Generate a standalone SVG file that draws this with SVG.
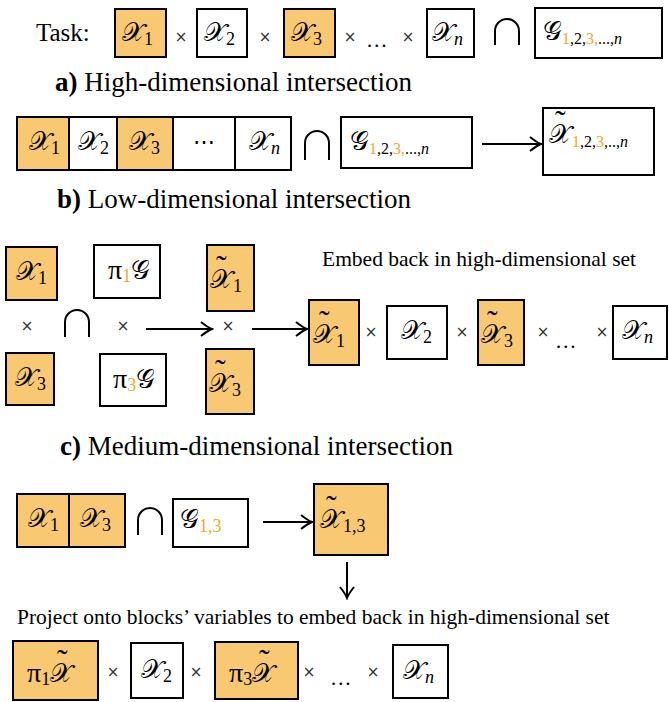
<svg xmlns="http://www.w3.org/2000/svg" width="669" height="702" viewBox="0 0 669 702">
<defs>
<style>
.bx{fill:#fff;stroke:#000;stroke-width:2}
.or{fill:#F8C873}
.t{font-family:"Liberation Serif",serif;font-size:21.5px;fill:#000}
.h{font-family:"Liberation Serif",serif;font-size:27px;fill:#000}
.m{font-family:"DejaVu Serif","Liberation Serif",serif;font-size:26px;fill:#000}
.p{font-family:"Liberation Serif",serif;font-size:28px}
.s{font-family:"Liberation Serif",serif;font-size:18px}
.o{fill:#F5A623}
.x{font-family:"DejaVu Sans",sans-serif;font-size:15px;fill:#333}
.tl{font-family:"Liberation Serif",serif;font-size:32px}
.cap{fill:none;stroke:#000;stroke-width:2}
.ar{fill:none;stroke:#000;stroke-width:2}
</style>
<marker id="ah" viewBox="-12 -8 14 16" refX="0" refY="0" markerWidth="14" markerHeight="16" markerUnits="userSpaceOnUse" orient="auto">
<path d="M-11,-7 Q-4,-1.5 0,0 Q-4,1.5 -11,7" fill="none" stroke="#000" stroke-width="2"/>
</marker>
</defs>

<g id="task">
<text class="h" x="36" y="41" style="font-size:25px">Task:</text>
<g id="t-x1"><rect class="bx or" x="115" y="9" width="51" height="48"/><text class="m" x="122" y="41">𝒳<tspan class="s" dy="4">1</tspan></text></g>
<text class="x" x="181" y="42" text-anchor="middle">×</text>
<g id="t-x2"><rect class="bx" x="197" y="9" width="50" height="48"/><text class="m" x="204" y="41">𝒳<tspan class="s" dy="4">2</tspan></text></g>
<text class="x" x="265" y="42" text-anchor="middle">×</text>
<g id="t-x3"><rect class="bx or" x="284" y="9" width="51" height="48"/><text class="m" x="291" y="41">𝒳<tspan class="s" dy="4">3</tspan></text></g>
<text class="x" x="350" y="42" text-anchor="middle">×</text>
<text class="t" x="366" y="47">…</text>
<text class="x" x="408" y="42" text-anchor="middle">×</text>
<g id="t-xn"><rect class="bx" x="427" y="9" width="47" height="48"/><text class="m" x="432" y="41">𝒳<tspan class="s" dy="4" font-style="italic">n</tspan></text></g>
<path class="cap" d="M495,45 V31 A12,12 0 0 1 519,31 V45"/>
<g id="t-g"><rect class="bx" x="535" y="8" width="127" height="50"/><text class="m" x="543" y="40">𝒢<tspan class="s" dy="4" style="font-size:16px"><tspan class="o">1</tspan>,2,<tspan class="o">3,</tspan>...,<tspan font-style="italic">n</tspan></tspan></text></g>
</g>

<text class="h" x="55" y="91"><tspan font-weight="bold">a)</tspan> High-dimensional intersection</text>

<g id="row-a">
<rect class="bx or" x="17" y="117" width="52" height="53"/>
<rect class="bx" x="69" y="117" width="48" height="53"/>
<rect class="bx or" x="117" y="117" width="56" height="53"/>
<rect class="bx" x="173" y="117" width="62" height="53"/>
<rect class="bx" x="235" y="117" width="56" height="53"/>
<text class="m" x="29" y="150">𝒳<tspan class="s" dy="4">1</tspan></text>
<text class="m" x="78" y="150">𝒳<tspan class="s" dy="4">2</tspan></text>
<text class="m" x="129" y="150">𝒳<tspan class="s" dy="4">3</tspan></text>
<text class="t" x="204" y="149" text-anchor="middle">⋯</text>
<text class="m" x="249" y="150">𝒳<tspan class="s" dy="4" font-style="italic">n</tspan></text>
<path class="cap" d="M305,160 V143 A12,12 0 0 1 329,143 V160"/>
<g id="a-g"><rect class="bx" x="341" y="117" width="131" height="51"/><text class="m" x="350" y="150">𝒢<tspan class="s" dy="4" style="font-size:16px"><tspan class="o">1</tspan>,2,<tspan class="o">3,</tspan>...,<tspan font-style="italic">n</tspan></tspan></text></g>
<g id="a-xt"><rect class="bx" x="543" y="108" width="111" height="67"/><text class="m" x="549" y="143">𝒳<tspan class="tl" x="555" y="132">˜</tspan><tspan class="s" x="572" y="147" style="font-size:16px"><tspan class="o">1</tspan>,2,<tspan class="o">3</tspan>,..,<tspan font-style="italic">n</tspan></tspan></text></g>
</g>

<text class="h" x="57" y="208"><tspan font-weight="bold">b)</tspan> Low-dimensional intersection</text>

<g id="sec-b">
<g id="b-x1"><rect class="bx or" x="6" y="247" width="51" height="53"/><text class="m" x="16" y="280">𝒳<tspan class="s" dy="4">1</tspan></text></g>
<g id="b-pg1"><rect class="bx" x="94" y="245" width="66" height="53"/><text class="p" x="108" y="279">π<tspan class="s o" dy="3">1</tspan><tspan class="m" dy="-3">𝒢</tspan></text></g>
<text class="x" x="27" y="331" text-anchor="middle">×</text>
<path class="cap" d="M65,337 V322 A12,12 0 0 1 89,322 V337"/>
<text class="x" x="123" y="331" text-anchor="middle">×</text>
<g id="b-xt1"><rect class="bx or" x="207" y="245" width="47" height="66"/><text class="m" x="210" y="288">𝒳<tspan class="tl" x="216" y="277">˜</tspan><tspan class="s" x="233" y="292">1</tspan></text></g>
<text class="x" x="228" y="331" text-anchor="middle">×</text>
<g id="b-x3"><rect class="bx or" x="6" y="353" width="48" height="52"/><text class="m" x="15" y="386">𝒳<tspan class="s" dy="4">3</tspan></text></g>
<g id="b-pg3"><rect class="bx" x="100" y="354" width="66" height="52"/><text class="p" x="113" y="388">π<tspan class="s o" dy="3">3</tspan><tspan class="m" dy="-3">𝒢</tspan></text></g>
<g id="b-xt3"><rect class="bx or" x="206" y="349" width="48" height="65"/><text class="m" x="209" y="392">𝒳<tspan class="tl" x="215" y="381">˜</tspan><tspan class="s" x="232" y="396">3</tspan></text></g>
</g>

<text class="t" x="322" y="266">Embed back in high-dimensional set</text>

<g id="embed">
<g id="e-xt1"><rect class="bx or" x="309" y="300" width="50" height="65"/><text class="m" x="313" y="343">𝒳<tspan class="tl" x="319" y="332">˜</tspan><tspan class="s" x="336" y="347">1</tspan></text></g>
<text class="x" x="371" y="337" text-anchor="middle">×</text>
<g id="e-x2"><rect class="bx" x="387" y="306" width="60" height="53"/><text class="m" x="401" y="339">𝒳<tspan class="s" dy="4">2</tspan></text></g>
<text class="x" x="462" y="337" text-anchor="middle">×</text>
<g id="e-xt3"><rect class="bx or" x="478" y="300" width="46" height="65"/><text class="m" x="481" y="343">𝒳<tspan class="tl" x="487" y="332">˜</tspan><tspan class="s" x="504" y="347">3</tspan></text></g>
<text class="x" x="543" y="337" text-anchor="middle">×</text>
<text class="t" x="555" y="348">…</text>
<text class="x" x="602" y="337" text-anchor="middle">×</text>
<g id="e-xn"><rect class="bx" x="613" y="306" width="54" height="53"/><text class="m" x="622" y="339">𝒳<tspan class="s" dy="4" font-style="italic">n</tspan></text></g>
</g>

<text class="h" x="60" y="455"><tspan font-weight="bold">c)</tspan> Medium-dimensional intersection</text>

<g id="row-c">
<rect class="bx or" x="17" y="494" width="52" height="53"/>
<rect class="bx or" x="69" y="494" width="56" height="53"/>
<text class="m" x="28" y="527">𝒳<tspan class="s" dy="4">1</tspan></text>
<text class="m" x="80" y="527">𝒳<tspan class="s" dy="4">3</tspan></text>
<path class="cap" d="M138,535 V520 A12,12 0 0 1 162,520 V535"/>
<g id="c-g"><rect class="bx" x="173" y="499" width="75" height="48"/><text class="m" x="180" y="528">𝒢<tspan class="s o" dy="4">1,3</tspan></text></g>
<g id="c-xt"><rect class="bx or" x="314" y="484" width="74" height="71"/><text class="m" x="320" y="528">𝒳<tspan class="tl" x="326" y="517">˜</tspan><tspan class="s" x="343" y="532">1,3</tspan></text></g>
</g>

<text class="t" x="17" y="624">Project onto blocks’ variables to embed back in high-dimensional set</text>

<g id="bottom">
<g id="p-1"><rect class="bx or" x="13" y="641" width="85" height="59"/><text class="p" x="27" y="682">π<tspan class="s" dy="3">1</tspan><tspan class="m" dy="-3">𝒳</tspan><tspan class="tl" x="57" y="671">˜</tspan></text></g>
<text class="x" x="113" y="677" text-anchor="middle">×</text>
<g id="p-x2"><rect class="bx" x="131" y="643" width="52" height="55"/><text class="m" x="141" y="678">𝒳<tspan class="s" dy="4">2</tspan></text></g>
<text class="x" x="196" y="677" text-anchor="middle">×</text>
<g id="p-3"><rect class="bx or" x="215" y="642" width="83" height="57"/><text class="p" x="229" y="682">π<tspan class="s" dy="3">3</tspan><tspan class="m" dy="-3">𝒳</tspan><tspan class="tl" x="259" y="671">˜</tspan></text></g>
<text class="x" x="309" y="677" text-anchor="middle">×</text>
<text class="t" x="330" y="685">…</text>
<text class="x" x="373" y="677" text-anchor="middle">×</text>
<g id="p-xn"><rect class="bx" x="393" y="645" width="55" height="53"/><text class="m" x="403" y="679">𝒳<tspan class="s" dy="4" font-style="italic">n</tspan></text></g>
</g>

<g id="connectors">
<line class="ar" x1="482" y1="144" x2="541" y2="144" marker-end="url(#ah)"/>
<line class="ar" x1="146" y1="329" x2="212" y2="329" marker-end="url(#ah)"/>
<line class="ar" x1="252" y1="329" x2="307" y2="329" marker-end="url(#ah)"/>
<line class="ar" x1="263" y1="522" x2="312" y2="522" marker-end="url(#ah)"/>
<line class="ar" x1="347" y1="562" x2="347" y2="598" marker-end="url(#ah)"/>
</g>
</svg>
